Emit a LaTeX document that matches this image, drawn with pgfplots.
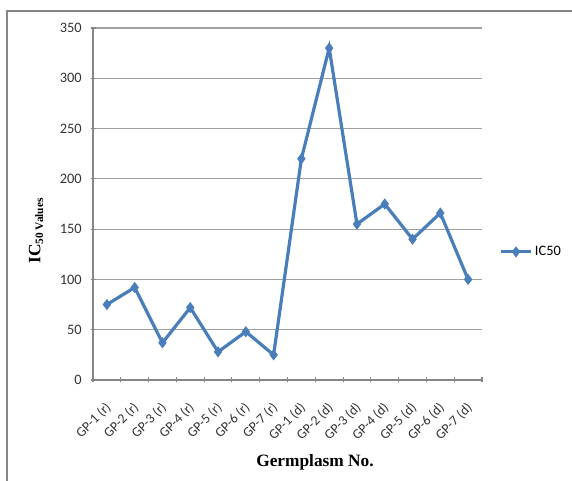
\documentclass[border=0pt]{standalone}
\usepackage{pgfplots}
\pgfplotsset{compat=1.18}
\usepackage{fontspec}
\setmainfont{Liberation Serif}
\newfontfamily\calibri{Carlito}
\definecolor{serblue}{RGB}{74,126,187}
\definecolor{gridgray}{RGB}{160,160,160}
\definecolor{axgray}{RGB}{134,134,134}

\begin{document}
\begin{tikzpicture}[x=0.75pt,y=0.75pt]
\useasboundingbox (0,0) rectangle (572,481);
% chart frame (only left and top edges visible)
\draw[axgray,line width=1.3pt] (7,-5) -- (7,470) -- (580,470);

\begin{axis}[
    at={(69.75pt,75.75pt)}, anchor=south west,
    scale only axis,
    width=291.75pt, height=264pt,
    xmin=-0.5, xmax=13.5,
    ymin=0, ymax=350,
    ytick={0,50,...,350},
    xtick={0,...,13},
    xticklabels={GP-1 (r),GP-2 (r),GP-3 (r),GP-4 (r),GP-5 (r),GP-6 (r),GP-7 (r),
                 GP-1 (d),GP-2 (d),GP-3 (d),GP-4 (d),GP-5 (d),GP-6 (d),GP-7 (d)},
    minor xtick={-0.5,0.5,...,13.5},
    major x tick style={draw=none},
    minor tick length=3.75pt,
    major tick length=3.75pt,
    tick align=outside,
    axis lines=left,
    axis line style={-, draw=axgray, line width=0.8pt},
    tick style={axgray, line width=0.8pt},
    ymajorgrids, grid style={gridgray, line width=0.8pt},
    /pgf/number format/assume math mode=true,
    ticklabel style={font=\calibri\fontsize{10.8}{12}\selectfont, text=black!80},
    xticklabel style={font=\calibri\fontsize{10.3}{12}\selectfont,
                      xshift=1.5pt, yshift=-17pt, rotate=45, anchor=east, inner sep=0pt},
    yticklabel style={xshift=-3pt},
    legend style={at={(rel axis cs:1.045,0.364)}, anchor=west, draw=none, fill=none,
                  font=\calibri\fontsize{10.8}{12}\selectfont, inner sep=0pt},
    legend image code/.code={\draw[mark repeat=2,mark phase=2,#1] plot coordinates {(0pt,0pt) (11pt,0pt) (22pt,0pt)};},
    clip=false,
]
\addplot[serblue, line width=2.4pt, mark=diamond*, mark size=3.8pt,
         mark options={fill=serblue, line width=0.5pt}]
  coordinates {
    (0,75) (1,92) (2,37) (3,72) (4,28) (5,48) (6,25)
    (7,220) (8,330) (9,155) (10,175) (11,140) (12,166) (13,100)
  };
\legend{IC50}
\end{axis}

\node[font=\bfseries\fontsize{13}{15}\selectfont] at (315,19) {Germplasm No.};
\node[rotate=90, font=\bfseries\fontsize{13}{15}\selectfont] at (36,250)
  {IC\raisebox{-0.35ex}{\fontsize{8.5}{9}\selectfont 50 Values}};
\end{tikzpicture}
\end{document}
